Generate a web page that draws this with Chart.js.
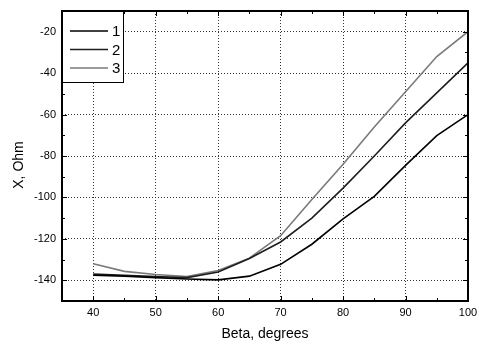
<!DOCTYPE html>
<html><head><meta charset="utf-8">
<script src="https://cdn.jsdelivr.net/npm/chart.js@4.4.0/dist/chart.umd.min.js"></script>
<style>html,body{margin:0;padding:0;background:#fff;}#wrap{width:479px;height:348px;}</style>
</head><body><div id="wrap"><canvas id="c" width="479" height="348"></canvas></div>
<script>
const beta = [40,45,50,55,60,65,70,75,80,85,90,95,100];
const series1 = [-137.5,-138,-138.7,-139.4,-139.8,-138,-132.3,-122.6,-110.3,-99.5,-84.5,-70.2,-60];
const series2 = [-137,-137.6,-138.2,-138.7,-136,-129.5,-121.5,-110,-95.5,-80,-64,-49.5,-35];
const series3 = [-132,-135.7,-137.2,-138.2,-135.3,-129.3,-118.5,-101,-84,-66,-49,-32,-20];
const seriesNames = ['1','2','3'];
const seriesColors = ['#000000','#1e1e1e','#7a7a7a'];
const xTitle = 'Beta, degrees';
const yTitle = 'X, Ohm';

const toPts = s => beta.map((b,i)=>({x:b,y:s[i]}));
const FONT = "'Liberation Sans', Arial, sans-serif";

const framePlugin = {
  id:'frame',
  afterDraw(chart){
    const ctx = chart.ctx, a = chart.chartArea;
    const xs = chart.scales.x, ys = chart.scales.y;
    ctx.save();
    ctx.strokeStyle = '#000';
    ctx.lineWidth = 1;
    ctx.beginPath();
    xs.ticks.forEach(t=>{
      const px = Math.round(xs.getPixelForValue(t.value))+0.5;
      const len = (t.value%10===0)?5:3;
      ctx.moveTo(px,a.bottom); ctx.lineTo(px,a.bottom-len);
      ctx.moveTo(px,a.top); ctx.lineTo(px,a.top+len);
    });
    ys.ticks.forEach(t=>{
      const py = Math.round(ys.getPixelForValue(t.value))+0.5;
      const len = (t.value%20===0)?5:3;
      ctx.moveTo(a.left,py); ctx.lineTo(a.left+len,py);
      ctx.moveTo(a.right,py); ctx.lineTo(a.right-len,py);
    });
    ctx.stroke();
    ctx.lineWidth = 2;
    ctx.strokeRect(a.left, a.top, a.right-a.left, a.bottom-a.top);
    // y-axis title (drawn here to match its off-centre placement)
    ctx.save();
    ctx.translate(19, (a.top+a.bottom)/2 + 9);
    ctx.rotate(-Math.PI/2);
    ctx.font = '14px ' + FONT;
    ctx.fillStyle = '#000';
    ctx.textAlign = 'center';
    ctx.textBaseline = 'middle';
    ctx.fillText(yTitle, 0, 0);
    ctx.restore();
    // legend
    const lx = a.left, ly = a.top, lw = 61, lh = 71;
    ctx.fillStyle = '#fff';
    ctx.fillRect(lx,ly,lw,lh);
    ctx.lineWidth = 1;
    ctx.strokeRect(lx+0.5,ly+0.5,lw,lh);
    ctx.font = '15px ' + FONT;
    ctx.textBaseline = 'middle';
    ctx.textAlign = 'left';
    chart.data.datasets.forEach((d,i)=>{
      const y = ly + 20 + i*18.5;
      ctx.strokeStyle = d.borderColor;
      ctx.lineWidth = 1.5;
      ctx.beginPath(); ctx.moveTo(lx+8,y); ctx.lineTo(lx+46,y); ctx.stroke();
      ctx.fillStyle = '#000';
      ctx.fillText(d.label, lx+50, y+1);
    });
    ctx.restore();
  }
};

new Chart(document.getElementById('c'), {
  type:'line',
  data:{datasets:[
    {label:seriesNames[0],data:toPts(series1),borderColor:seriesColors[0],borderWidth:1.6,pointRadius:0,tension:0},
    {label:seriesNames[1],data:toPts(series2),borderColor:seriesColors[1],borderWidth:1.6,pointRadius:0,tension:0},
    {label:seriesNames[2],data:toPts(series3),borderColor:seriesColors[2],borderWidth:1.6,pointRadius:0,tension:0}
  ]},
  options:{
    responsive:false, animation:false, devicePixelRatio:1,
    layout:{padding:{left:0,right:11,top:11,bottom:0}},
    plugins:{legend:{display:false},tooltip:{enabled:false}},
    scales:{
      x:{type:'linear',min:35,max:100,
        border:{display:false,dash:[1,2]},
        grid:{drawTicks:false,color:c=>(c.tick&&c.tick.value%10===0&&c.tick.value>35&&c.tick.value<100)?'#333':'rgba(0,0,0,0)',lineWidth:1},
        ticks:{stepSize:5,autoSkip:false,maxRotation:0,padding:5,color:'#000',font:{family:FONT,size:11},
          callback:v=>(v%10===0)?String(v):''},
        title:{display:true,text:xTitle,color:'#000',font:{family:FONT,size:14},padding:{top:6,bottom:5}},
        afterFit:s=>{s.height=47;s.paddingRight=0;s.paddingLeft=0;}
      },
      y:{type:'linear',min:-150,max:-10,
        border:{display:false,dash:[1,2]},
        grid:{drawTicks:false,color:c=>(c.tick&&c.tick.value%20===0)?'#333':'rgba(0,0,0,0)',lineWidth:1},
        ticks:{stepSize:10,autoSkip:false,padding:6,color:'#000',font:{family:FONT,size:11},
          callback:v=>(v%20===0)?String(v):''},
        title:{display:false,text:yTitle},
        afterFit:s=>{s.width=62;s.paddingTop=0;s.paddingBottom=0;}
      }
    }
  },
  plugins:[framePlugin]
});
</script>
</body></html>
